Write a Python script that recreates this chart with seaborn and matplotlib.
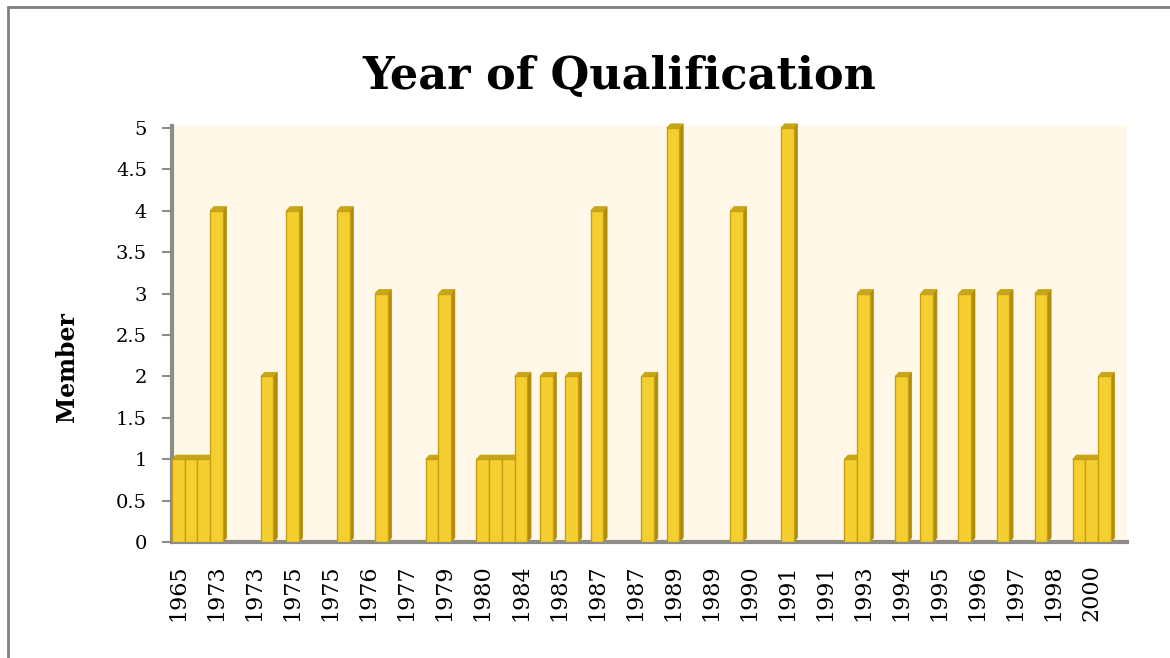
import matplotlib
matplotlib.use("Agg")
import matplotlib.pyplot as plt
from matplotlib.patches import Polygon, Rectangle
import seaborn as sns
import pandas as pd

# one bar per listed qualification, tick label shown on every third bar
members = [1, 1, 1, 4, 0, 0, 0, 2, 0, 4,
           0, 0, 0, 4, 0, 0, 3, 0, 0, 0,
           1, 3, 0, 0, 1, 1, 1, 2, 0, 2,
           0, 2, 0, 4, 0, 0, 0, 2, 0, 5,
           0, 0, 0, 0, 4, 0, 0, 0, 5, 0,
           0, 0, 0, 1, 3, 0, 0, 2, 0, 3,
           0, 0, 3, 0, 0, 3, 0, 0, 3, 0,
           0, 1, 1, 2, 0]
year_labels = ["1965", "1973", "1973", "1975", "1975", "1976", "1977", "1979",
               "1980", "1984", "1985", "1987", "1987", "1989", "1989", "1990",
               "1991", "1991", "1993", "1994", "1995", "1996", "1997", "1998",
               "2000"]
y_ticks = [0, 0.5, 1, 1.5, 2, 2.5, 3, 3.5, 4, 4.5, 5]
label_step = 3

FACE = "#F5CF30"
EDGE = "#C4A014"
SIDE = "#B08C0C"
TOP = "#C9A518"
WALL = "#FFF7E8"
AXIS_GREY = "#8C8C8C"

sns.set_theme(style="white")
plt.rcParams["font.family"] = ["DejaVu Serif"]
plt.rcParams["text.color"] = "black"

df = pd.DataFrame({"pos": list(range(len(members))), "member": members})

fig = plt.figure(figsize=(11.7, 6.58), dpi=100)
ax = fig.add_axes([0.147, 0.1763, 0.816, 0.6322])
ax.set_facecolor(WALL)

sns.barplot(data=df, x="pos", y="member", color=FACE, width=1.0,
            saturation=1, edgecolor=EDGE, linewidth=1, ax=ax, zorder=3)

# fake 3D depth: side + top faces built from each bar's own geometry
dx, dy = 0.3, 0.05
for p in ax.patches:
    h = p.get_height()
    if h <= 0:
        continue
    x0 = p.get_x()
    x1 = x0 + p.get_width()
    side = Polygon([(x1, 0), (x1 + dx, dy), (x1 + dx, h + dy), (x1, h)],
                   closed=True, facecolor=SIDE, edgecolor=SIDE, lw=0.5,
                   zorder=2, clip_on=False)
    top = Polygon([(x0, h), (x0 + dx, h + dy), (x1 + dx, h + dy), (x1, h)],
                  closed=True, facecolor=TOP, edgecolor=EDGE, lw=0.5,
                  zorder=2, clip_on=False)
    ax.add_patch(side)
    ax.add_patch(top)

ax.set_xlim(-0.5, 74.76)
ax.set_ylim(0, 5.024)
ax.set_yticks(y_ticks)
ax.set_yticklabels([f"{t:g}" for t in y_ticks], fontsize=14)
ax.set_xticks(range(0, len(members), label_step))
ax.set_xticklabels(year_labels, rotation=90, fontsize=16)
ax.set_xlabel("")
ax.set_ylabel("")
ax.tick_params(axis="y", which="both", left=True, length=7, width=1.5,
               color=AXIS_GREY, pad=11, labelcolor="black")
ax.tick_params(axis="x", bottom=False, pad=10, labelcolor="black")

for side_name in ["top", "right"]:
    ax.spines[side_name].set_visible(False)
ax.spines["left"].set_color(AXIS_GREY)
ax.spines["left"].set_linewidth(3)
ax.spines["bottom"].set_color(AXIS_GREY)
ax.spines["bottom"].set_linewidth(3)

fig.text(0.529, 0.884, "Year of Qualification", ha="center", va="center",
         fontsize=32, fontweight="bold", color="black")
fig.text(0.057, 0.442, "Member", ha="center", va="center", rotation=90,
         fontsize=17, fontweight="bold", color="black")

# outer frame around the chart object
fig.patches.append(Rectangle((8 / 1170, -0.1), 1.2, 1.0 - 7 / 658 + 0.1,
                             transform=fig.transFigure, fill=False,
                             edgecolor="#7F7F7F", linewidth=2))

fig.savefig("out.png", dpi=100)
